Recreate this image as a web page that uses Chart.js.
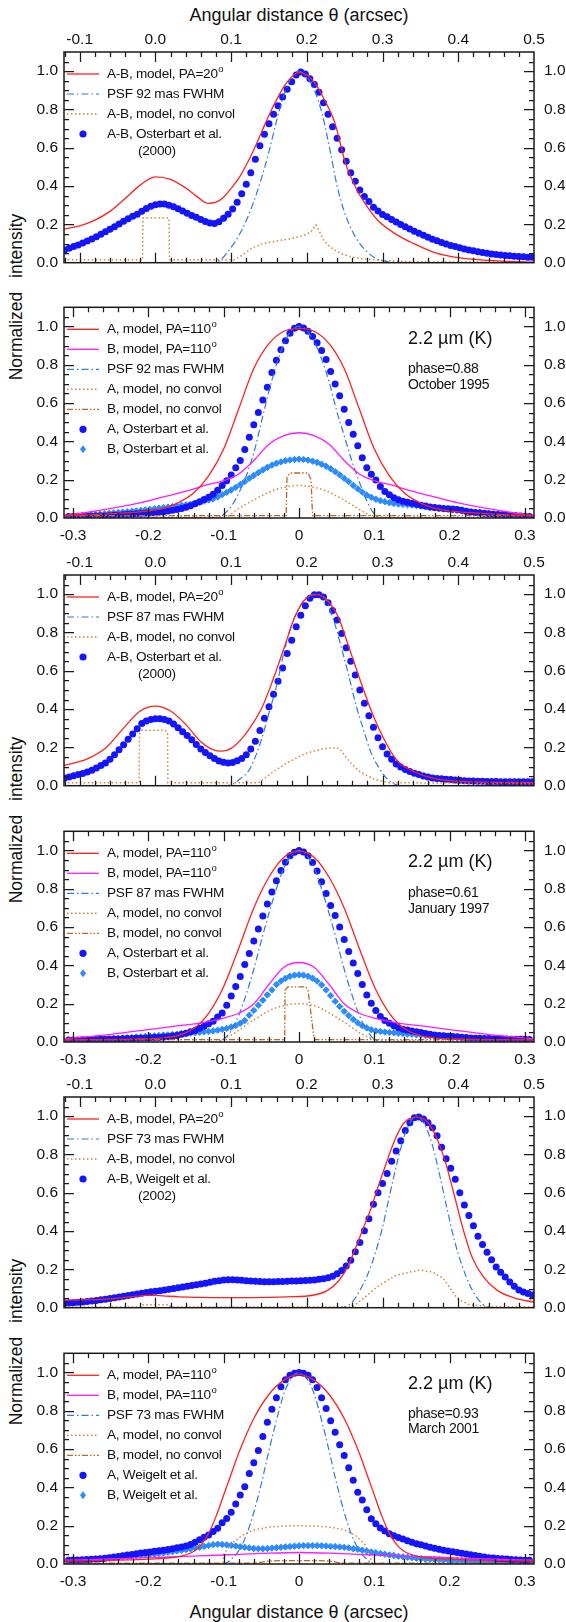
<!DOCTYPE html>
<html><head><meta charset="utf-8">
<script src="https://cdn.jsdelivr.net/npm/chart.js@4.4.1/dist/chart.umd.min.js"></script>
<style>
html,body{margin:0;padding:0;background:#fff;}
body{width:566px;height:1622px;position:relative;overflow:hidden;font-family:"Liberation Sans",Arial,sans-serif;}
canvas{position:absolute;left:0;}
.t{position:absolute;color:#111;white-space:nowrap;line-height:1;}
.xt{font-size:18px;transform:translate(-50%,-50%);}
.yt{font-size:17.5px;word-spacing:9px;transform:translate(-50%,-50%) rotate(-90deg);}
</style></head><body>
<div class="t xt" style="left:299px;top:15px">Angular distance θ (arcsec)</div>
<div class="t xt" style="left:299px;top:1612px">Angular distance θ (arcsec)</div>
<div class="t yt" style="left:17px;top:297px">Normalized intensity</div>
<div class="t yt" style="left:17px;top:820px">Normalized intensity</div>
<div class="t yt" style="left:17px;top:1342px">Normalized intensity</div>
<canvas id="c1" width="566" height="260"></canvas>
<canvas id="c2" width="566" height="260"></canvas>
<canvas id="c3" width="566" height="260"></canvas>
<canvas id="c4" width="566" height="260"></canvas>
<canvas id="c5" width="566" height="260"></canvas>
<canvas id="c6" width="566" height="260"></canvas>
<script>
// ---------- tick labels ----------
const Y_TICKS = [0, 0.2, 0.4, 0.6, 0.8, 1.0];
const Y_TICK_LABELS = ['0.0','0.2','0.4','0.6','0.8','1.0'];
const TOP_TICKS = [-0.1, 0, 0.1, 0.2, 0.3, 0.4, 0.5];
const TOP_TICK_LABELS = ['-0.1','0.0','0.1','0.2','0.3','0.4','0.5'];
const BOT_TICKS = [-0.3, -0.2, -0.1, 0, 0.1, 0.2, 0.3];
const BOT_TICK_LABELS = ['-0.3','-0.2','-0.1','0','0.1','0.2','0.3'];
const XMIN_TOP = -0.1207, XMAX_TOP = 0.5;
const XMIN_BOT = -0.312, XMAX_BOT = 0.312;

// ---------- observation samples (x positions) ----------
const DOT_X_TOP = [-0.120,-0.114,-0.108,-0.102,-0.096,-0.090,-0.084,-0.078,-0.072,-0.066,
-0.060,-0.054,-0.048,-0.042,-0.036,-0.030,-0.024,-0.018,-0.012,-0.006,
0.000,0.006,0.012,0.018,0.024,0.030,0.036,0.042,0.048,0.054,
0.060,0.066,0.072,0.078,0.084,0.090,0.096,0.102,0.108,0.114,
0.120,0.126,0.132,0.138,0.144,0.150,0.156,0.162,0.168,0.174,
0.180,0.186,0.192,0.198,0.204,0.210,0.216,0.222,0.228,0.234,
0.240,0.246,0.252,0.258,0.264,0.270,0.276,0.282,0.288,0.294,
0.300,0.306,0.312,0.318,0.324,0.330,0.336,0.342,0.348,0.354,
0.360,0.366,0.372,0.378,0.384,0.390,0.396,0.402,0.408,0.414,
0.420,0.426,0.432,0.438,0.444,0.450,0.456,0.462,0.468,0.474,
0.480,0.486,0.492,0.498];
const DOT_X_BOT = [-0.306,-0.300,-0.294,-0.288,-0.282,-0.276,-0.270,-0.264,-0.258,-0.252,
-0.246,-0.240,-0.234,-0.228,-0.222,-0.216,-0.210,-0.204,-0.198,-0.192,
-0.186,-0.180,-0.174,-0.168,-0.162,-0.156,-0.150,-0.144,-0.138,-0.132,
-0.126,-0.120,-0.114,-0.108,-0.102,-0.096,-0.090,-0.084,-0.078,-0.072,
-0.066,-0.060,-0.054,-0.048,-0.042,-0.036,-0.030,-0.024,-0.018,-0.012,
-0.006,0.000,0.006,0.012,0.018,0.024,0.030,0.036,0.042,0.048,
0.054,0.060,0.066,0.072,0.078,0.084,0.090,0.096,0.102,0.108,
0.114,0.120,0.126,0.132,0.138,0.144,0.150,0.156,0.162,0.168,
0.174,0.180,0.186,0.192,0.198,0.204,0.210,0.216,0.222,0.228,
0.234,0.240,0.246,0.252,0.258,0.264,0.270,0.276,0.282,0.288,
0.294,0.300,0.306];

// ---------- panel 1 (Oct 1995, A-B) ----------
const P1_DOTS = [0.066,0.075,0.084,0.093,0.103,0.113,0.124,0.136,0.149,0.162,
0.175,0.188,0.202,0.217,0.230,0.242,0.253,0.268,0.283,0.295,
0.303,0.307,0.306,0.300,0.292,0.282,0.270,0.258,0.247,0.237,
0.226,0.215,0.207,0.205,0.214,0.232,0.253,0.280,0.315,0.360,
0.410,0.470,0.540,0.610,0.670,0.725,0.775,0.820,0.865,0.905,
0.945,0.980,0.995,0.985,0.960,0.930,0.890,0.835,0.775,0.710,
0.650,0.590,0.530,0.470,0.425,0.380,0.345,0.320,0.290,0.270,
0.252,0.240,0.226,0.213,0.200,0.188,0.176,0.164,0.154,0.143,
0.133,0.123,0.114,0.106,0.098,0.090,0.084,0.078,0.072,0.066,
0.062,0.057,0.053,0.049,0.046,0.043,0.040,0.038,0.036,0.034,
0.032,0.031,0.029,0.028];
const P1_RED_X = [-0.121,-0.1,-0.08,-0.06,-0.04,-0.02,0,0.02,0.04,0.055,0.069,0.08,0.09,0.1,0.11,0.12,0.13,0.14,0.15,0.16,0.17,0.18,0.189,0.2,0.21,0.222,0.237,0.251,0.2656,0.275,0.294,0.318,0.342,0.366,0.39,0.414,0.46,0.5];
const P1_RED_Y = [0.175,0.192,0.222,0.268,0.335,0.405,0.448,0.435,0.39,0.345,0.31,0.316,0.342,0.388,0.44,0.51,0.59,0.68,0.77,0.85,0.92,0.97,0.993,0.98,0.94,0.86,0.73,0.52,0.385,0.32,0.22,0.148,0.098,0.057,0.033,0.02,0.008,0.003];
const P1_PSF_X = [-0.121,0.079,0.09,0.1,0.11,0.12,0.13,0.14,0.15,0.16,0.17,0.18,0.189,0.2,0.21,0.22,0.23,0.24,0.25,0.26,0.27,0.28,0.29,0.3,0.31,0.32,0.5];
const P1_PSF_Y = [0,0,0.03,0.08,0.14,0.22,0.32,0.44,0.58,0.74,0.88,0.97,1,0.97,0.9,0.78,0.6,0.4,0.26,0.165,0.1,0.055,0.025,0.01,0.003,0,0];
const P1_NC_X = [-0.121,-0.017,-0.0165,0.018,0.0185,0.105,0.115,0.127,0.14,0.151,0.165,0.175,0.19,0.2,0.206,0.212,0.217,0.2225,0.23,0.237,0.245,0.256,0.27,0.294,0.318,0.36,0.5];
const P1_NC_Y = [0.016,0.016,0.233,0.233,0.016,0.016,0.04,0.075,0.097,0.107,0.117,0.123,0.136,0.148,0.165,0.197,0.16,0.115,0.085,0.066,0.048,0.033,0.022,0.013,0.008,0.004,0.003];

// ---------- panel 2 (Oct 1995, A and B) ----------
const P2_A = [0.008,0.008,0.009,0.009,0.010,0.010,0.011,0.011,0.011,0.012,
0.014,0.015,0.017,0.019,0.020,0.022,0.023,0.025,0.026,0.028,
0.030,0.032,0.036,0.040,0.045,0.050,0.056,0.064,0.074,0.085,
0.097,0.108,0.124,0.145,0.170,0.195,0.225,0.262,0.300,0.357,
0.422,0.487,0.551,0.616,0.682,0.760,0.824,0.878,0.925,0.965,
0.990,1.000,0.992,0.975,0.948,0.915,0.875,0.828,0.765,0.700,
0.638,0.568,0.498,0.437,0.377,0.315,0.262,0.228,0.198,0.164,
0.138,0.121,0.106,0.095,0.088,0.082,0.077,0.072,0.067,0.062,
0.058,0.055,0.052,0.050,0.048,0.047,0.044,0.040,0.035,0.031,
0.029,0.027,0.025,0.022,0.020,0.018,0.017,0.015,0.013,0.012,
0.010,0.009,0.008];
const P2_B = [0.006,0.008,0.010,0.012,0.014,0.016,0.018,0.020,0.022,0.025,
0.027,0.029,0.031,0.033,0.035,0.037,0.040,0.042,0.045,0.048,
0.051,0.054,0.057,0.060,0.063,0.066,0.069,0.072,0.077,0.082,
0.088,0.094,0.100,0.110,0.122,0.134,0.146,0.160,0.175,0.190,
0.207,0.222,0.237,0.251,0.265,0.276,0.286,0.293,0.299,0.303,
0.306,0.307,0.306,0.302,0.297,0.290,0.281,0.270,0.257,0.242,
0.225,0.207,0.190,0.170,0.152,0.135,0.120,0.108,0.098,0.090,
0.085,0.080,0.076,0.073,0.071,0.069,0.067,0.065,0.062,0.059,
0.056,0.053,0.050,0.047,0.045,0.042,0.040,0.037,0.035,0.032,
0.030,0.027,0.025,0.023,0.021,0.019,0.018,0.016,0.013,0.011,
0.009,0.007,0.005];
const P2_RED_X = [-0.312,-0.25,-0.2,-0.18,-0.16,-0.14,-0.12,-0.1,-0.08,-0.06,-0.04,-0.02,0,0.02,0.04,0.06,0.08,0.1,0.12,0.14,0.16,0.18,0.2,0.25,0.312];
const P2_RED_Y = [0.013,0.022,0.037,0.05,0.08,0.13,0.22,0.36,0.57,0.78,0.91,0.975,0.99,0.975,0.91,0.78,0.57,0.36,0.22,0.13,0.08,0.05,0.037,0.022,0.013];
const P2_MAG_X = [-0.312,-0.28,-0.25,-0.21,-0.18,-0.15,-0.12,-0.1,-0.08,-0.06,-0.04,-0.02,0,0.02,0.04,0.06,0.08,0.1,0.12,0.15,0.18,0.21,0.25,0.28,0.312];
const P2_MAG_Y = [0.012,0.03,0.05,0.08,0.11,0.14,0.175,0.195,0.23,0.3,0.385,0.43,0.445,0.43,0.385,0.3,0.23,0.195,0.175,0.14,0.11,0.08,0.05,0.03,0.012];
const P2_PSF_X = [-0.312,-0.11,-0.1,-0.09,-0.08,-0.07,-0.06,-0.05,-0.04,-0.03,-0.02,-0.01,0,0.01,0.02,0.03,0.04,0.05,0.06,0.07,0.08,0.09,0.1,0.11,0.312];
const P2_PSF_Y = [0,0,0.02,0.06,0.13,0.22,0.34,0.5,0.66,0.8,0.91,0.98,1,0.98,0.92,0.83,0.71,0.56,0.43,0.3,0.19,0.09,0.02,0,0];
const P2_ANC_X = [-0.312,-0.1,-0.08,-0.0625,-0.0385,-0.02,0,0.02,0.034,0.058,0.082,0.096,0.1,0.312];
const P2_ANC_Y = [0.004,0.004,0.05,0.089,0.137,0.16,0.17,0.16,0.145,0.097,0.04,0.01,0.004,0.004];
const P2_BNC_X = [-0.312,-0.017,-0.016,-0.012,0.012,0.016,0.018,0.312];
const P2_BNC_Y = [0.012,0.012,0.21,0.235,0.235,0.2,0.012,0.012];

// ---------- panel 3 (Jan 1997, A-B) ----------
const P3_DOTS = [0.040,0.046,0.052,0.058,0.064,0.071,0.081,0.093,0.106,0.119,
0.138,0.162,0.188,0.214,0.242,0.270,0.297,0.325,0.338,0.346,
0.350,0.349,0.345,0.338,0.322,0.302,0.282,0.262,0.240,0.215,
0.192,0.173,0.157,0.142,0.129,0.122,0.118,0.121,0.130,0.142,
0.162,0.192,0.232,0.288,0.352,0.412,0.478,0.545,0.615,0.690,
0.760,0.830,0.890,0.940,0.978,0.997,0.997,0.985,0.955,0.915,
0.865,0.795,0.720,0.650,0.578,0.500,0.430,0.365,0.305,0.250,
0.203,0.166,0.138,0.113,0.098,0.085,0.074,0.065,0.058,0.051,
0.045,0.040,0.038,0.036,0.034,0.032,0.030,0.028,0.026,0.024,
0.024,0.023,0.023,0.022,0.022,0.022,0.021,0.021,0.021,0.020,
0.020,0.020,0.020,0.020];
const P3_RED_X = [-0.121,-0.09,-0.065,-0.04,-0.02,0,0.02,0.04,0.06,0.075,0.088,0.1,0.115,0.127,0.141,0.155,0.17,0.184,0.1986,0.213,0.227,0.2416,0.256,0.27,0.2847,0.299,0.318,0.342,0.366,0.414,0.5];
const P3_RED_Y = [0.105,0.14,0.2,0.31,0.39,0.415,0.39,0.32,0.23,0.19,0.18,0.195,0.25,0.315,0.41,0.55,0.72,0.88,0.976,0.998,0.968,0.879,0.718,0.556,0.395,0.266,0.137,0.073,0.04,0.021,0.016];
const P3_PSF_X = [-0.121,0.095,0.11,0.125,0.14,0.15,0.16,0.17,0.18,0.19,0.2,0.213,0.225,0.235,0.245,0.255,0.265,0.275,0.285,0.295,0.305,0.315,0.325,0.5];
const P3_PSF_Y = [0,0,0.03,0.09,0.24,0.38,0.52,0.7,0.84,0.93,0.985,1,0.97,0.87,0.73,0.58,0.42,0.29,0.17,0.095,0.04,0.01,0,0];
const P3_NC_X = [-0.121,-0.0215,-0.021,-0.018,0.013,0.016,0.0165,0.136,0.1555,0.1746,0.1986,0.2225,0.239,0.245,0.251,0.26,0.27,0.2895,0.309,0.5];
const P3_NC_Y = [0.015,0.015,0.27,0.29,0.29,0.27,0.015,0.015,0.073,0.121,0.169,0.194,0.2,0.185,0.153,0.11,0.073,0.032,0.016,0.01];

// ---------- panel 4 (Jan 1997, A and B) ----------
const P4_A = [0.010,0.011,0.011,0.012,0.012,0.013,0.013,0.014,0.015,0.015,
0.016,0.016,0.017,0.018,0.018,0.019,0.020,0.021,0.022,0.023,
0.024,0.026,0.028,0.031,0.034,0.040,0.046,0.053,0.060,0.072,
0.082,0.095,0.108,0.130,0.152,0.192,0.240,0.290,0.342,0.405,
0.462,0.527,0.590,0.658,0.720,0.783,0.842,0.895,0.938,0.972,
0.991,1.000,0.992,0.972,0.937,0.893,0.837,0.775,0.712,0.660,
0.600,0.535,0.472,0.412,0.358,0.300,0.245,0.202,0.165,0.133,
0.112,0.098,0.085,0.075,0.067,0.062,0.057,0.053,0.049,0.045,
0.040,0.036,0.034,0.032,0.030,0.029,0.027,0.025,0.023,0.021,
0.020,0.019,0.018,0.018,0.017,0.017,0.016,0.016,0.015,0.015,
0.014,0.014,0.013];
const P4_B = [0.002,0.003,0.004,0.005,0.006,0.008,0.010,0.012,0.014,0.016,
0.018,0.019,0.021,0.022,0.024,0.026,0.027,0.029,0.031,0.032,
0.034,0.036,0.037,0.039,0.041,0.043,0.045,0.047,0.049,0.051,
0.053,0.055,0.058,0.062,0.066,0.071,0.078,0.086,0.098,0.112,
0.140,0.165,0.192,0.218,0.246,0.272,0.300,0.318,0.333,0.343,
0.349,0.351,0.349,0.343,0.333,0.318,0.298,0.272,0.242,0.212,
0.185,0.160,0.138,0.118,0.100,0.085,0.074,0.064,0.058,0.055,
0.052,0.050,0.048,0.046,0.044,0.042,0.040,0.038,0.036,0.034,
0.032,0.030,0.028,0.027,0.025,0.024,0.022,0.021,0.019,0.017,
0.016,0.014,0.013,0.011,0.010,0.009,0.008,0.007,0.006,0.005,
0.004,0.003,0.002];
const P4_RED_X = [-0.312,-0.22,-0.18,-0.16,-0.14,-0.12,-0.1,-0.08,-0.06,-0.04,-0.02,0,0.02,0.04,0.06,0.08,0.1,0.12,0.14,0.16,0.18,0.22,0.312];
const P4_RED_Y = [0.011,0.015,0.022,0.035,0.07,0.15,0.29,0.49,0.7,0.86,0.965,0.995,0.965,0.86,0.7,0.49,0.29,0.15,0.07,0.035,0.022,0.015,0.011];
const P4_MAG_X = [-0.312,-0.25,-0.2,-0.16,-0.13,-0.1,-0.08,-0.06,-0.04,-0.02,0,0.02,0.04,0.06,0.08,0.1,0.13,0.16,0.2,0.25,0.312];
const P4_MAG_Y = [0.016,0.04,0.065,0.085,0.1,0.125,0.15,0.2,0.3,0.39,0.415,0.39,0.3,0.2,0.15,0.125,0.1,0.085,0.065,0.04,0.016];
const P4_PSF_X = [-0.312,-0.11,-0.1,-0.09,-0.08,-0.07,-0.06,-0.05,-0.04,-0.03,-0.02,-0.01,0,0.01,0.02,0.03,0.04,0.05,0.06,0.07,0.08,0.09,0.1,0.11,0.312];
const P4_PSF_Y = [0,0,0.015,0.06,0.14,0.25,0.38,0.53,0.67,0.8,0.91,0.975,1,0.975,0.91,0.8,0.67,0.53,0.38,0.25,0.14,0.06,0.015,0,0];
const P4_ANC_X = [-0.312,-0.11,-0.0865,-0.0625,-0.0385,-0.02,0,0.02,0.034,0.058,0.082,0.106,0.312];
const P4_ANC_Y = [0.003,0.003,0.045,0.109,0.165,0.19,0.2,0.19,0.165,0.109,0.045,0.01,0.003];
const P4_BNC_X = [-0.312,-0.019,-0.0185,-0.015,0.009,0.012,0.02,0.0215,0.312];
const P4_BNC_Y = [0.012,0.012,0.27,0.288,0.288,0.27,0.02,0.012,0.012];

// ---------- panel 5 (Mar 2001, A-B) ----------
const P5_DOTS = [0.023,0.024,0.026,0.028,0.030,0.032,0.035,0.038,0.041,0.044,
0.048,0.052,0.056,0.060,0.064,0.068,0.072,0.076,0.080,0.083,
0.086,0.089,0.092,0.096,0.100,0.104,0.108,0.112,0.116,0.120,
0.124,0.128,0.133,0.138,0.141,0.144,0.146,0.146,0.145,0.143,
0.141,0.139,0.138,0.137,0.136,0.136,0.136,0.137,0.137,0.138,
0.139,0.140,0.141,0.142,0.143,0.145,0.148,0.151,0.156,0.164,
0.177,0.194,0.218,0.248,0.292,0.340,0.402,0.465,0.540,0.600,
0.648,0.700,0.765,0.818,0.872,0.925,0.965,0.992,0.996,0.985,
0.966,0.940,0.898,0.838,0.778,0.728,0.670,0.600,0.536,0.482,
0.428,0.373,0.330,0.290,0.250,0.212,0.185,0.160,0.134,0.112,
0.092,0.082,0.074,0.066];
const P5_RED_X = [-0.121,-0.065,-0.02,-0.007,0.01,0.031,0.079,0.127,0.175,0.208,0.227,0.2416,0.2536,0.2656,0.275,0.2847,0.294,0.304,0.316,0.328,0.3445,0.359,0.371,0.383,0.395,0.4067,0.4187,0.433,0.452,0.476,0.5];
const P5_RED_Y = [0.04,0.045,0.062,0.065,0.062,0.057,0.053,0.053,0.057,0.065,0.089,0.138,0.21,0.324,0.42,0.518,0.631,0.744,0.874,0.963,0.995,0.971,0.89,0.76,0.583,0.405,0.259,0.162,0.089,0.049,0.029];
const P5_PSF_X = [-0.121,0.245,0.26,0.27,0.28,0.29,0.3,0.31,0.32,0.33,0.3445,0.355,0.365,0.375,0.385,0.395,0.405,0.415,0.425,0.435,0.445,0.5];
const P5_PSF_Y = [0,0,0.03,0.09,0.17,0.28,0.42,0.6,0.77,0.91,1,0.96,0.86,0.7,0.52,0.35,0.22,0.12,0.05,0.01,0,0];
const P5_NC_X = [-0.121,-0.02,-0.019,0.019,0.02,0.26,0.275,0.294,0.318,0.349,0.366,0.38,0.39,0.3995,0.414,0.44,0.5];
const P5_NC_Y = [0.004,0.004,0.015,0.015,0.004,0.004,0.049,0.113,0.17,0.197,0.186,0.154,0.097,0.045,0.016,0.006,0.004];

// ---------- panel 6 (Mar 2001, A and B) ----------
const P6_A = [0.020,0.021,0.021,0.022,0.023,0.025,0.026,0.028,0.030,0.033,
0.036,0.039,0.043,0.047,0.050,0.053,0.057,0.060,0.063,0.066,
0.069,0.072,0.076,0.080,0.085,0.089,0.094,0.102,0.114,0.126,
0.140,0.152,0.170,0.186,0.215,0.238,0.270,0.313,0.360,0.403,
0.472,0.528,0.593,0.665,0.740,0.808,0.868,0.925,0.962,0.985,
0.996,1.000,0.996,0.985,0.962,0.922,0.868,0.812,0.748,0.688,
0.622,0.566,0.503,0.437,0.375,0.334,0.283,0.236,0.210,0.188,
0.172,0.158,0.148,0.138,0.130,0.122,0.114,0.106,0.100,0.094,
0.088,0.082,0.077,0.072,0.068,0.064,0.060,0.056,0.052,0.048,
0.044,0.040,0.036,0.033,0.031,0.029,0.028,0.026,0.024,0.022,
0.021,0.020,0.019];
const P6_B = [0.016,0.017,0.019,0.020,0.022,0.024,0.026,0.027,0.029,0.031,
0.034,0.036,0.038,0.040,0.042,0.044,0.046,0.048,0.050,0.052,
0.055,0.058,0.061,0.064,0.068,0.071,0.075,0.079,0.083,0.087,
0.092,0.097,0.101,0.103,0.102,0.100,0.097,0.094,0.090,0.087,
0.084,0.081,0.080,0.080,0.081,0.083,0.085,0.087,0.089,0.091,
0.093,0.095,0.096,0.096,0.096,0.096,0.095,0.094,0.092,0.091,
0.089,0.087,0.084,0.080,0.077,0.072,0.068,0.063,0.059,0.055,
0.051,0.047,0.044,0.040,0.038,0.035,0.033,0.030,0.028,0.026,
0.025,0.024,0.023,0.021,0.020,0.019,0.018,0.017,0.016,0.015,
0.014,0.013,0.013,0.012,0.011,0.011,0.010,0.010,0.009,0.009,
0.008,0.008,0.008];
const P6_RED_X = [-0.312,-0.2,-0.16,-0.14,-0.13,-0.12,-0.11,-0.1,-0.09,-0.08,-0.06,-0.04,-0.02,0,0.02,0.04,0.06,0.08,0.09,0.1,0.11,0.12,0.13,0.14,0.16,0.2,0.312];
const P6_RED_Y = [0.015,0.025,0.038,0.065,0.1,0.16,0.25,0.36,0.47,0.58,0.76,0.885,0.96,0.99,0.96,0.885,0.76,0.58,0.47,0.36,0.25,0.16,0.1,0.065,0.038,0.025,0.015];
const P6_MAG_X = [-0.312,-0.25,-0.2,-0.15,-0.1,-0.05,0,0.05,0.1,0.15,0.2,0.25,0.312];
const P6_MAG_Y = [0.02,0.026,0.033,0.04,0.047,0.055,0.06,0.055,0.047,0.04,0.033,0.026,0.02];
const P6_PSF_X = [-0.312,-0.1,-0.09,-0.08,-0.07,-0.06,-0.05,-0.04,-0.03,-0.02,-0.01,0,0.01,0.02,0.03,0.04,0.05,0.06,0.07,0.08,0.09,0.1,0.312];
const P6_PSF_Y = [0,0,0.025,0.07,0.15,0.27,0.42,0.59,0.75,0.89,0.97,1,0.97,0.89,0.75,0.59,0.42,0.27,0.15,0.07,0.025,0,0];
const P6_ANC_X = [-0.312,-0.101,-0.1,-0.09,-0.075,-0.06,-0.04,-0.02,0,0.02,0.04,0.06,0.075,0.088,0.095,0.097,0.312];
const P6_ANC_Y = [0,0,0.05,0.105,0.15,0.178,0.193,0.198,0.2,0.198,0.193,0.178,0.15,0.1,0.03,0,0];
const P6_BNC_X = [-0.312,-0.06,-0.04,0,0.04,0.06,0.312];
const P6_BNC_Y = [0.005,0.005,0.015,0.018,0.015,0.005,0.005];

// ---------- styles ----------
const FONT = '"Liberation Sans", Arial, Helvetica, sans-serif';
const ST = {
  red: {borderColor:'#ff2020', borderWidth:1.3},
  mag: {borderColor:'#ff1aff', borderWidth:1.3},
  psf: {borderColor:'#2f7bd6', borderWidth:1.2, borderDash:[7,3,1.5,3]},
  anc: {borderColor:'#d8843a', borderWidth:1.5, borderDash:[1.5,2.5]},
  bnc: {borderColor:'#c0661e', borderWidth:1.3, borderDash:[6,2,1.5,2,1.5,2]}
};
function P(xs, ys) { return xs.map((x, i) => ({x: x, y: ys[i]})); }
function line(xs, ys, st, label, lg, smooth) {
  return Object.assign({data: P(xs, ys), showLine: true, pointRadius: 0, fill: false, tension: 0,
    cubicInterpolationMode: smooth ? 'monotone' : 'default', order: 0, label: label, lg: lg, borderDash: []}, st);
}
function dots(xs, ys, label, lg) {
  return {data: P(xs, ys), showLine: false, pointRadius: 3.5, pointStyle: 'circle', backgroundColor: '#1414ff',
    borderWidth: 0, order: 1, label: label, lg: lg, kind: 'dot'};
}
function bdots(xs, ys, label, lg) {
  return {data: P(xs, ys), showLine: false, pointRadius: 3.2, pointStyle: 'rectRot', backgroundColor: '#2a8cff',
    borderColor: '#2a8cff', borderWidth: 1, order: 2, label: label, lg: lg, kind: 'bdot'};
}

const NOTES = {};
const framePlugin = {
  id: 'frame',
  afterDatasetsDraw(chart) {
    const ctx = chart.ctx, a = chart.chartArea, xs = chart.scales.x, ys = chart.scales.y;
    ctx.save();
    ctx.strokeStyle = '#1a1a1a'; ctx.lineWidth = 1.25; ctx.setLineDash([]);
    const step = 0.02;
    ctx.beginPath();
    for (let k = Math.ceil(xs.min / step - 1e-6); k * step <= xs.max + 1e-9; k++) {
      const v = k * step;
      const px = Math.round(xs.getPixelForValue(v)) + 0.5;
      if (px <= a.left + 1 || px >= a.right - 1) continue;
      const major = Math.abs(v * 10 - Math.round(v * 10)) < 1e-6;
      const L = major ? 10 : 5;
      ctx.moveTo(px, a.top); ctx.lineTo(px, a.top + L);
      ctx.moveTo(px, a.bottom); ctx.lineTo(px, a.bottom - L);
    }
    for (let k = 1; k * 0.05 < 1.1 - 1e-9; k++) {
      const py = Math.round(ys.getPixelForValue(k * 0.05)) + 0.5;
      const L = (k % 4 === 0) ? 10 : 5;
      ctx.moveTo(a.left, py); ctx.lineTo(a.left + L, py);
      ctx.moveTo(a.right, py); ctx.lineTo(a.right - L, py);
    }
    ctx.stroke();
    ctx.lineWidth = 1.5;
    ctx.strokeRect(a.left, a.top, a.right - a.left, a.bottom - a.top);
    ctx.restore();
  },
  afterDraw(chart) {
    const ctx = chart.ctx, a = chart.chartArea;
    ctx.save();
    const items = chart.data.datasets.filter(d => d.lg !== undefined).sort((p, q) => p.lg - q.lg);
    items.forEach((d, i) => {
      const y = a.top + 22 + i * 20;
      if (d.showLine) {
        ctx.strokeStyle = d.borderColor; ctx.lineWidth = d.borderWidth; ctx.setLineDash(d.borderDash || []);
        ctx.beginPath(); ctx.moveTo(67, y); ctx.lineTo(99, y); ctx.stroke();
        ctx.setLineDash([]);
      } else if (d.kind === 'dot') {
        ctx.fillStyle = d.backgroundColor; ctx.beginPath(); ctx.arc(83, y, 3.6, 0, Math.PI * 2); ctx.fill();
      } else {
        ctx.fillStyle = d.backgroundColor; ctx.beginPath();
        ctx.moveTo(83, y - 4); ctx.lineTo(86, y); ctx.lineTo(83, y + 4); ctx.lineTo(80, y); ctx.closePath(); ctx.fill();
      }
      ctx.fillStyle = '#111'; ctx.textBaseline = 'middle'; ctx.textAlign = 'left';
      ctx.font = '13.6px ' + FONT;
      try { ctx.letterSpacing = '-0.25px'; } catch (e) {}
      let txt = d.label, sup = false;
      if (txt.endsWith('º')) { txt = txt.slice(0, -1); sup = true; }
      ctx.fillText(txt, 107, y);
      if (sup) {
        const w = ctx.measureText(txt).width;
        ctx.font = '9.5px ' + FONT; ctx.fillText('o', 107 + w + 0.5, y - 4.5);
      }
    });
    (NOTES[chart.canvas.id] || []).forEach(n => {
      ctx.fillStyle = '#111'; ctx.textBaseline = 'middle'; ctx.textAlign = 'left';
      ctx.font = n.size + 'px ' + FONT;
      try { ctx.letterSpacing = n.ls || '0px'; } catch (e) {}
      ctx.fillText(n.t, n.x, a.top + n.dy);
    });
    ctx.restore();
  }
};

function yAxis(pos) {
  return {type: 'linear', position: pos, min: 0, max: 1.1,
    afterFit(s) { s.width = pos === 'left' ? 64 : 32; },
    afterBuildTicks(s) { s.ticks = Y_TICKS.map(v => ({value: v})); },
    ticks: {autoSkip: false, padding: pos === 'left' ? 6 : 10, font: {family: FONT, size: 15.5}, color: '#111',
      callback: (v, i) => Y_TICK_LABELS[i]},
    grid: {display: false, drawTicks: false}, border: {display: false}};
}

function panel(id, top, pos, datasets, notes) {
  const isTop = pos === 'top';
  const cv = document.getElementById(id);
  cv.style.top = top + 'px';
  NOTES[id] = notes;
  const tv = isTop ? TOP_TICKS : BOT_TICKS, tl = isTop ? TOP_TICK_LABELS : BOT_TICK_LABELS;
  new Chart(cv, {
    type: 'scatter',
    data: {datasets: datasets},
    options: {
      responsive: false, animation: false, events: [], devicePixelRatio: 1,
      layout: {padding: {top: isTop ? 0 : 3, bottom: isTop ? 3 : 0, left: 0, right: 0}},
      plugins: {legend: {display: false}, tooltip: {enabled: false}},
      scales: {
        x: {type: 'linear', position: pos, min: isTop ? XMIN_TOP : XMIN_BOT, max: isTop ? XMAX_TOP : XMAX_BOT,
          afterFit(s) { s.height = 30; },
          afterBuildTicks(s) { s.ticks = tv.map(v => ({value: v})); },
          ticks: {autoSkip: false, maxRotation: 0, padding: isTop ? 2.5 : 8, font: {family: FONT, size: 15.5}, color: '#111',
            callback: (v, i) => tl[i]},
          grid: {display: false, drawTicks: false}, border: {display: false}},
        y: yAxis('left'),
        y2: yAxis('right')
      }
    },
    plugins: [framePlugin]
  });
}

const T = DOT_X_TOP, B = DOT_X_BOT;
panel('c1', 22, 'top', [
  line(P1_RED_X, P1_RED_Y, ST.red, 'A-B, model, PA=20º', 0, true),
  line(P1_PSF_X, P1_PSF_Y, ST.psf, 'PSF 92 mas FWHM', 1, true),
  line(P1_NC_X, P1_NC_Y, ST.anc, 'A-B, model, no convol', 2, false),
  dots(T, P1_DOTS, 'A-B, Osterbart et al.', 3)
], [{t: '(2000)', x: 138, dy: 99, size: 13.6, ls: '-0.25px'}]);

panel('c2', 288, 'bottom', [
  line(P2_RED_X, P2_RED_Y, ST.red, 'A, model, PA=110º', 0, true),
  line(P2_MAG_X, P2_MAG_Y, ST.mag, 'B, model, PA=110º', 1, true),
  line(P2_PSF_X, P2_PSF_Y, ST.psf, 'PSF 92 mas FWHM', 2, true),
  line(P2_ANC_X, P2_ANC_Y, ST.anc, 'A, model, no convol', 3, true),
  line(P2_BNC_X, P2_BNC_Y, ST.bnc, 'B, model, no convol', 4, false),
  dots(B, P2_A, 'A, Osterbart et al.', 5),
  bdots(B, P2_B, 'B, Osterbart et al.', 6)
], [{t: '2.2 µm (K)', x: 408, dy: 32, size: 18}, {t: 'phase=0.88', x: 408, dy: 62, size: 14, ls: '-0.3px'},
    {t: 'October 1995', x: 408, dy: 78, size: 14, ls: '-0.3px'}]);

panel('c3', 545, 'top', [
  line(P3_RED_X, P3_RED_Y, ST.red, 'A-B, model, PA=20º', 0, true),
  line(P3_PSF_X, P3_PSF_Y, ST.psf, 'PSF 87 mas FWHM', 1, true),
  line(P3_NC_X, P3_NC_Y, ST.anc, 'A-B, model, no convol', 2, false),
  dots(T, P3_DOTS, 'A-B, Osterbart et al.', 3)
], [{t: '(2000)', x: 138, dy: 99, size: 13.6, ls: '-0.25px'}]);

panel('c4', 812, 'bottom', [
  line(P4_RED_X, P4_RED_Y, ST.red, 'A, model, PA=110º', 0, true),
  line(P4_MAG_X, P4_MAG_Y, ST.mag, 'B, model, PA=110º', 1, true),
  line(P4_PSF_X, P4_PSF_Y, ST.psf, 'PSF 87 mas FWHM', 2, true),
  line(P4_ANC_X, P4_ANC_Y, ST.anc, 'A, model, no convol', 3, true),
  line(P4_BNC_X, P4_BNC_Y, ST.bnc, 'B, model, no convol', 4, false),
  dots(B, P4_A, 'A, Osterbart et al.', 5),
  bdots(B, P4_B, 'B, Osterbart et al.', 6)
], [{t: '2.2 µm (K)', x: 408, dy: 31, size: 18}, {t: 'phase=0.61', x: 408, dy: 62, size: 14, ls: '-0.3px'},
    {t: 'January 1997', x: 408, dy: 78, size: 14, ls: '-0.3px'}]);

panel('c5', 1067, 'top', [
  line(P5_RED_X, P5_RED_Y, ST.red, 'A-B, model, PA=20º', 0, true),
  line(P5_PSF_X, P5_PSF_Y, ST.psf, 'PSF 73 mas FWHM', 1, true),
  line(P5_NC_X, P5_NC_Y, ST.anc, 'A-B, model, no convol', 2, false),
  dots(T, P5_DOTS, 'A-B, Weigelt et al.', 3)
], [{t: '(2002)', x: 138, dy: 99, size: 13.6, ls: '-0.25px'}]);

panel('c6', 1334, 'bottom', [
  line(P6_RED_X, P6_RED_Y, ST.red, 'A, model, PA=110º', 0, true),
  line(P6_MAG_X, P6_MAG_Y, ST.mag, 'B, model, PA=110º', 1, true),
  line(P6_PSF_X, P6_PSF_Y, ST.psf, 'PSF 73 mas FWHM', 2, true),
  line(P6_ANC_X, P6_ANC_Y, ST.anc, 'A, model, no convol', 3, false),
  line(P6_BNC_X, P6_BNC_Y, ST.bnc, 'B, model, no convol', 4, true),
  dots(B, P6_A, 'A, Weigelt et al.', 5),
  bdots(B, P6_B, 'B, Weigelt et al.', 6)
], [{t: '2.2 µm (K)', x: 408, dy: 31, size: 18}, {t: 'phase=0.93', x: 408, dy: 61, size: 14, ls: '-0.3px'},
    {t: 'March 2001', x: 408, dy: 76, size: 14, ls: '-0.3px'}]);
</script>
</body></html>
